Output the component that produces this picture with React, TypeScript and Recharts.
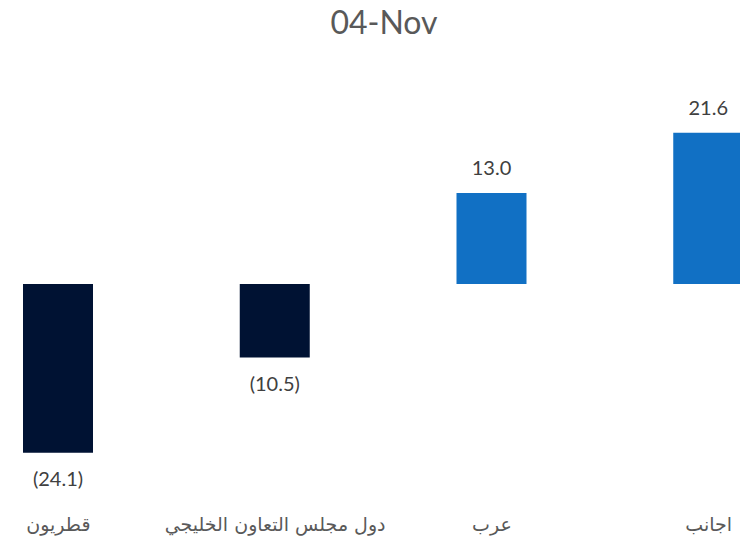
import React from 'react';
import { BarChart, Bar, XAxis, YAxis, Cell, LabelList } from 'recharts';

const categories = ['قطريون', 'دول مجلس التعاون الخليجي', 'عرب', 'اجانب'];
const values = [-24.1, -10.5, 13.0, 21.6];
const barColors = ['#001233', '#001233', '#1170C4', '#1170C4'];
const title = '04-Nov';

const data = categories.map((c, i) => ({ category: c, value: values[i] }));

const fmt = (v: number) => (v < 0 ? `(${Math.abs(v).toFixed(1)})` : v.toFixed(1));

const ValueLabel = (props: any) => {
  const { x, y, width, height, value } = props;
  const top = Math.min(y, y + height);
  const bottom = Math.max(y, y + height);
  // keep the label inside the visible area (as the original chart does)
  const cx = Math.max(x + width / 2, 96);
  const ty = value < 0 ? bottom + 25 : top - 26;
  return (
    <text x={cx} y={ty} textAnchor="middle" dominantBaseline="central" fill="#404040"
      style={{ fontFamily: 'Lato, "Open Sans", sans-serif', fontSize: 20 }}>
      {fmt(value)}
    </text>
  );
};

const CatTick = (props: any) => {
  const { x, y, payload } = props;
  return (
    <text x={x} y={y + 22} textAnchor="middle" dominantBaseline="central" fill="#595959"
      style={{ fontFamily: '"DejaVu Sans", "Liberation Sans", sans-serif', fontSize: 19 }}>
      {payload.value}
    </text>
  );
};

export default function App() {
  return (
    <div style={{ position: 'absolute', left: 0, top: 0, width: 740, height: 540, overflow: 'hidden', background: '#fff' }}>
      <div style={{ position: 'absolute', left: 284, width: 200, top: 2, textAlign: 'center', fontFamily: 'Lato, "Open Sans", sans-serif', fontSize: 32, color: '#595959' }}>
        {title}
      </div>
      <div style={{ position: 'absolute', left: -50, top: 0 }}>
        <BarChart width={867} height={540} data={data} margin={{ top: 74, right: 0, bottom: 0, left: 0 }} barCategoryGap="68%">
          <XAxis dataKey="category" axisLine={false} tickLine={false} interval={0} height={46} tick={<CatTick />} />
          <YAxis hide domain={[-30, 30]} />
          <Bar dataKey="value" isAnimationActive={false} barSize={70}>
            {data.map((d, i) => (
              <Cell key={i} fill={barColors[i]} />
            ))}
            <LabelList dataKey="value" content={<ValueLabel />} />
          </Bar>
        </BarChart>
      </div>
    </div>
  );
}
